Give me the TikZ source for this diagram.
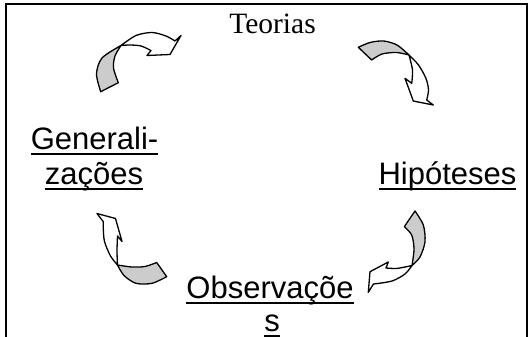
\documentclass[tikz,border=0pt]{standalone}
\usepackage{fontspec}
\setmainfont{Liberation Serif}
\newfontfamily\arialfont{Liberation Sans}
% underlined word with the rule a fixed distance below the baseline
\newcommand\ulword[1]{\setbox0\hbox{#1}\rlap{\rule[-5.5pt]{\wd0}{1.8pt}}\box0}
\definecolor{ribbon}{RGB}{204,204,204}
\tikzset{
  frameline/.style={line width=2pt},
  backface/.style={fill=ribbon, draw=black, line width=1.3pt, line join=round},
  frontface/.style={fill=white, draw=black, line width=1.3pt, line join=round},
  label/.style={font=\arialfont\fontsize{31}{34}\selectfont, inner sep=0pt, anchor=base},
  title/.style={font=\fontsize{29.5}{34}\selectfont, inner sep=0pt, anchor=base}
}
\begin{document}
\begin{tikzpicture}[x=1pt, y=-1pt]
\useasboundingbox (0,0) rectangle (531,337);

% frame (open at the bottom)
\coordinate (fl) at (5.5,337);
\coordinate (ftl) at (5.5,4);
\coordinate (ftr) at (527,4);
\coordinate (fr) at (527,337);
\draw[frameline] (fl) -- (ftl) -- (ftr) -- (fr);

% labels
\node[title] (teorias) at (272.5,33.5) {Teorias};
\node[label] (hip) at (447.5,184) {\ulword{Hipóteses}};
\node[label] (obs1) at (270,298) {\ulword{Observaçõe}};
\node[label] (obs2) at (272,331) {\ulword{s}};
\node[label] (gen1) at (94.5,149.5) {\ulword{Generali-}};
\node[label] (gen2) at (94,184) {\ulword{zações}};

% twisted curved arrows: grey back face at the tail, white front face with the head
% Generalizacoes -> Teorias
\filldraw[backface] (100.7,91.7) -- plot[smooth] coordinates {(100.7,91.7) (96.5,74) (102,58) (121,45.5)}
  -- plot[smooth] coordinates {(121,45.5) (115,56) (113.5,68) (118.3,82.7)} -- cycle;
\filldraw[frontface] (121,45.5) -- plot[smooth] coordinates {(121,45.5) (136,35.5) (152,32.5) (166,36) (175,41)}
  -- (181,35.5) -- (170,54.5) -- (147,55.5) -- (151,50.5)
  -- plot[smooth] coordinates {(151,50.5) (141,46) (130,45) (121,45.5)} -- cycle;

% Teorias -> Hipoteses
\filldraw[backface] (358.3,47.3) -- plot[smooth] coordinates {(358.3,47.3) (370,42.5) (383.5,41) (397,45) (409,55)}
  -- plot[smooth] coordinates {(409,55) (396.5,52.5) (382,54) (371.7,60)} -- cycle;
\filldraw[frontface] (409,55) -- plot[smooth] coordinates {(409,55) (418.5,65) (426,78.5) (428.5,90) (426.7,100)}
  -- (433.3,105) -- (413.3,101) -- (405,78.3) -- (411.7,83.3)
  -- plot[smooth] coordinates {(411.7,83.3) (412.5,70) (409,55)} -- cycle;

% Hipoteses -> Observacoes
\filldraw[backface] (415,211) -- plot[smooth] coordinates {(415,211) (423.3,225) (425,241.7) (420,257) (412,265.5)}
  -- plot[smooth] coordinates {(412,265.5) (414,249) (411.7,235) (404.3,226.7)} -- cycle;
\filldraw[frontface] (412,265.5) -- plot[smooth] coordinates {(412,265.5) (405,274) (392,281) (373.5,284)}
  -- (368.3,292.3) -- (370,271.7) -- (388.3,262) -- (386,268)
  -- plot[smooth] coordinates {(386,268) (396,268.5) (405,267) (412,265.5)} -- cycle;

% Observacoes -> Generalizacoes
\filldraw[backface] (166.7,276.7) -- plot[smooth] coordinates {(166.7,276.7) (152,283.3) (136,283.3) (124,275.5) (117.5,265)}
  -- plot[smooth] coordinates {(117.5,265) (131.7,267) (145,266.5) (156.7,262.5)} -- cycle;
\filldraw[frontface] (117.5,265) -- plot[smooth] coordinates {(117.5,265) (110.5,256) (104.5,241.5) (103.3,228.5) (103.3,221.7)}
  -- (97,213.5) -- (115.5,218.5) -- (122,241.5) -- (117.5,236)
  -- plot[smooth] coordinates {(117.5,236) (117,251) (117.5,265)} -- cycle;
\end{tikzpicture}
\end{document}
